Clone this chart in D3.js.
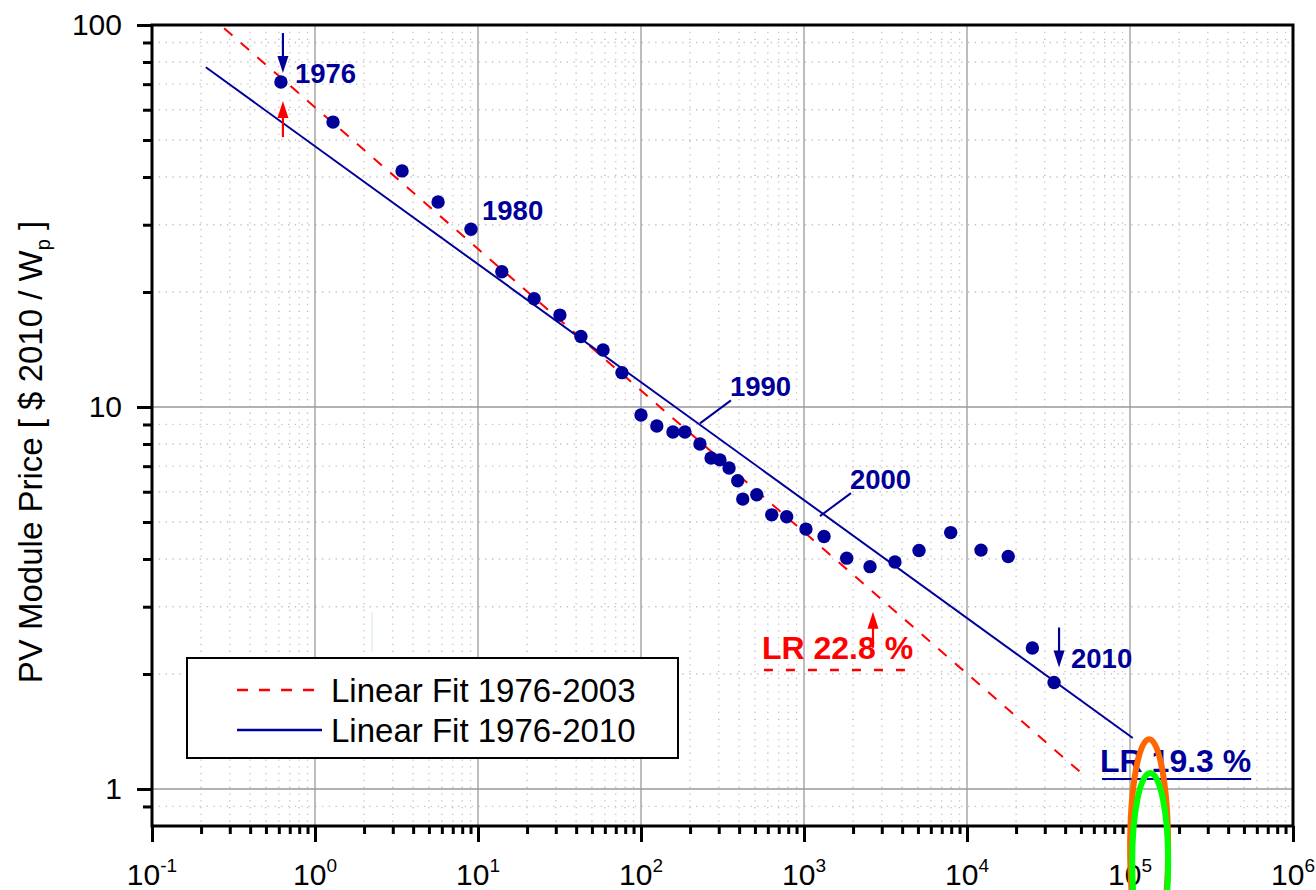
<!DOCTYPE html>
<html>
<head>
<meta charset="utf-8">
<script src="https://cdn.jsdelivr.net/npm/d3@7"></script>
<style>
  body { margin: 0; background: #fff; }
  svg { display: block; }
  text { font-family: "Liberation Sans", Arial, Helvetica, sans-serif; }
</style>
</head>
<body>
<svg id="vis" width="1316" height="890"></svg>
<script>
// cumulative installed capacity vs. module price, one point per year
const years = [1976, 1977, 1978, 1979, 1980, 1981, 1982, 1983, 1984, 1985, 1986, 1987,
               1988, 1989, 1990, 1991, 1992, 1993, 1994, 1995, 1996, 1997, 1998, 1999,
               2000, 2001, 2002, 2003, 2004, 2005, 2006, 2007, 2008, 2009, 2010];
const capacity = [0.618, 1.29, 3.42, 5.69, 9.06, 14.0, 22.1, 31.8, 42.8, 58.5, 76.4, 100,
                  125, 157, 186, 230, 269, 305, 347, 392, 421, 513, 634, 783,
                  1028, 1327, 1828, 2541, 3614, 5077, 7943, 12190, 17900, 25180, 34200];
const price = [70.9, 55.7, 41.5, 34.4, 29.2, 22.6, 19.2, 17.4, 15.3, 14.1, 12.3, 9.53,
               8.92, 8.60, 8.60, 8.00, 7.35, 7.27, 6.92, 6.41, 5.74, 5.89, 5.22, 5.16,
               4.79, 4.58, 4.02, 3.82, 3.93, 4.21, 4.69, 4.22, 4.06, 2.34, 1.90];

// fit lines, end points [capacity, price]
const fit2003 = [[0.277, 98], [53000, 1.08]];
const fit2010 = [[0.214, 77.5], [104000, 1.36]];
const legendLabels = ["Linear Fit 1976-2003", "Linear Fit 1976-2010"];
const lrLabels = ["LR 22.8 %", "LR 19.3 %"];

// axis ticks
const xDecades = [0.1, 1, 10, 100, 1e3, 1e4, 1e5, 1e6];
const xExponents = ["-1", "0", "1", "2", "3", "4", "5", "6"];
const yMajor = [1, 10, 100];
const yTickLabels = ["1", "10", "100"];

// year labels on points, and callouts to the fit line
const labelledYears = [1976, 1980, 2010];
const callouts = [{ text: "1990", at: [230, 9.06] }, { text: "2000", at: [1253, 5.18] }];

const blue = "#000099", red = "#ff0000";
const L = 152, R = 1293, T = 25, B = 826;

const svg = d3.select("#vis");
const x = d3.scaleLog().domain([0.1, 1e6]).range([L, R]);
const y = d3.scaleLog().domain([0.8, 100]).range([B, T]);

var xMinor = [];
xDecades.slice(0, -1).forEach(d => { for (let k = 2; k <= 9; k++) xMinor.push(d * k); });
var yMinor = [0.9];
[1, 10].forEach(d => { for (let k = 2; k <= 9; k++) yMinor.push(d * k); });

// grid
const grid = svg.append("g");
grid.selectAll(".vmin").data(xMinor).join("line")
    .attr("x1", d => x(d)).attr("x2", d => x(d)).attr("y1", T).attr("y2", B)
    .attr("stroke", "#c2c2c2").attr("stroke-width", 1.3).attr("stroke-dasharray", "1.3,5.5");
grid.selectAll(".hmin").data(yMinor).join("line")
    .attr("y1", d => y(d)).attr("y2", d => y(d)).attr("x1", L).attr("x2", R)
    .attr("stroke", "#c2c2c2").attr("stroke-width", 1.3).attr("stroke-dasharray", "1.3,5.5");
grid.selectAll(".vmaj").data(xDecades.slice(1, -1)).join("line")
    .attr("x1", d => x(d)).attr("x2", d => x(d)).attr("y1", T).attr("y2", B)
    .attr("stroke", "#9a9a9a").attr("stroke-width", 1.3);
grid.selectAll(".hmaj").data([1, 10]).join("line")
    .attr("y1", d => y(d)).attr("y2", d => y(d)).attr("x1", L).attr("x2", R)
    .attr("stroke", "#9a9a9a").attr("stroke-width", 1.3);

// faint stray mark seen in the original
svg.append("line")
    .attr("x1", x(2.24)).attr("x2", x(2.24)).attr("y1", y(2.91)).attr("y2", y(2.28))
    .attr("stroke", "#d3e6ec").attr("stroke-width", 1);

// fits
const line = d3.line().x(d => x(d[0])).y(d => y(d[1]));
svg.append("path").attr("d", line(fit2003)).attr("fill", "none")
    .attr("stroke", red).attr("stroke-width", 2).attr("stroke-dasharray", "11,11");
svg.append("path").attr("d", line(fit2010)).attr("fill", "none")
    .attr("stroke", blue).attr("stroke-width", 2);

// points
svg.append("g").selectAll("circle").data(years).join("circle")
    .attr("cx", (d, i) => x(capacity[i]))
    .attr("cy", (d, i) => y(price[i]))
    .attr("r", 6.7)
    .attr("fill", blue);

// annotation helpers
function arrow(px, yTail, yTip, color) {
    const dir = Math.sign(yTip - yTail);
    svg.append("line").attr("x1", px).attr("x2", px)
        .attr("y1", yTail).attr("y2", yTip - dir * 10)
        .attr("stroke", color).attr("stroke-width", 2.2);
    svg.append("path")
        .attr("d", `M${px - 5.5},${yTip - dir * 17}L${px + 5.5},${yTip - dir * 17}L${px},${yTip}Z`)
        .attr("fill", color);
}
function boldLabel(px, py, txt, color, size) {
    return svg.append("text").attr("x", px).attr("y", py)
        .style("font-size", size + "px").style("font-weight", "bold")
        .attr("fill", color).text(txt);
}

const offsets = { 1976: [14, 1], 1980: [11, -9], 2010: [17, -15] };
labelledYears.forEach(yr => {
    const i = years.indexOf(yr);
    boldLabel(x(capacity[i]) + offsets[yr][0], y(price[i]) + offsets[yr][1], String(yr), blue, 27.5);
});

callouts.forEach(c => {
    const px = x(c.at[0]), py = y(c.at[1]);
    svg.append("line").attr("x1", px).attr("y1", py).attr("x2", px + 31).attr("y2", py - 23)
        .attr("stroke", blue).attr("stroke-width", 2);
    boldLabel(px + 30, py - 27, c.text, blue, 27.5);
});

// arrows at 1976 and 2010
const i76 = years.indexOf(1976), i10 = years.indexOf(2010);
arrow(x(capacity[i76]) + 2, y(price[i76]) - 49, y(price[i76]) - 9, blue);
arrow(x(capacity[i76]) + 2, y(price[i76]) + 55, y(price[i76]) + 19, red);
arrow(x(capacity[i10]) + 5, y(price[i10]) - 55, y(price[i10]) - 15, blue);
// arrow to the dashed fit
arrow(x(2650), y(2.91) + 36, y(2.91), red);

// learning rate labels
const lr1 = boldLabel(x(552), y(2.19), lrLabels[0], red, 32);
const b1 = lr1.node().getBBox();
svg.append("line").attr("x1", b1.x + 2).attr("x2", b1.x + b1.width).attr("y1", y(2.19) + 11).attr("y2", y(2.19) + 11)
    .attr("stroke", red).attr("stroke-width", 2.5).attr("stroke-dasharray", "9,13");
const lr2 = boldLabel(x(65500), y(1.108), lrLabels[1], blue, 32);
const b2 = lr2.node().getBBox();
svg.append("line").attr("x1", b2.x + 2).attr("x2", b2.x + b2.width).attr("y1", y(1.108) + 7).attr("y2", y(1.108) + 7)
    .attr("stroke", blue).attr("stroke-width", 2);

// frame and ticks
svg.append("rect").attr("x", L).attr("y", T).attr("width", R - L).attr("height", B - T)
    .attr("fill", "none").attr("stroke", "#000").attr("stroke-width", 3);

const yAxisMaj = d3.axisLeft(y).tickValues(yMajor).tickSize(15).tickPadding(15)
    .tickFormat((d, i) => yTickLabels[i]);
const yAx = svg.append("g").attr("transform", `translate(${L},0)`).call(yAxisMaj);
yAx.select(".domain").remove();
yAx.selectAll("line").attr("stroke-width", 3);
yAx.selectAll("text").style("font-size", "30px").attr("fill", "#000");

const yAxisMin = d3.axisLeft(y).tickValues(yMinor).tickSize(9).tickFormat("");
const yAx2 = svg.append("g").attr("transform", `translate(${L},0)`).call(yAxisMin);
yAx2.select(".domain").remove();
yAx2.selectAll("line").attr("stroke-width", 3);

const xAxisMaj = d3.axisBottom(x).tickValues(xDecades).tickSize(16).tickFormat("");
const xAx = svg.append("g").attr("transform", `translate(0,${B})`).call(xAxisMaj);
xAx.select(".domain").remove();
xAx.selectAll("line").attr("stroke-width", 3);
const xAxisMin = d3.axisBottom(x).tickValues(xMinor).tickSize(8).tickFormat("");
const xAx2 = svg.append("g").attr("transform", `translate(0,${B})`).call(xAxisMin);
xAx2.select(".domain").remove();
xAx2.selectAll("line").attr("stroke-width", 3);

const xl = svg.append("g").selectAll("text").data(xDecades).join("text")
    .attr("x", d => x(d)).attr("y", 885)
    .attr("text-anchor", "middle").style("font-size", "30px").attr("fill", "#000");
xl.append("tspan").text("10");
xl.append("tspan").attr("dy", -13).style("font-size", "19px").text((d, i) => xExponents[i]);

// y axis title
const yt = svg.append("text").attr("transform", "translate(42,452) rotate(-90)")
    .attr("text-anchor", "middle").style("font-size", "33px").attr("fill", "#000");
yt.append("tspan").text("PV Module Price [ $ 2010 / W");
yt.append("tspan").attr("dy", 8).style("font-size", "20px").text("p");
yt.append("tspan").attr("dy", -8).text(" ]");

// legend
const lg = svg.append("g");
lg.append("rect").attr("x", 187).attr("y", 658).attr("width", 491).attr("height", 100)
    .attr("fill", "#fff").attr("stroke", "#000").attr("stroke-width", 2);
legendLabels.forEach((lab, i) => {
    const ly = 690 + i * 40;
    lg.append("line").attr("x1", 237).attr("x2", i === 0 ? 316 : 322).attr("y1", ly).attr("y2", ly)
        .attr("stroke", i === 0 ? red : blue).attr("stroke-width", 2.5)
        .attr("stroke-dasharray", i === 0 ? "11,11" : null);
    lg.append("text").attr("x", 331).attr("y", ly + 12).style("font-size", "33px")
        .attr("fill", "#000").text(lab);
});

// highlight ellipses drawn over the 10^5 label
svg.append("ellipse").attr("cx", x(1.31e5)).attr("cy", y(0.70)).attr("rx", 19).attr("ry", 109)
    .attr("fill", "none").attr("stroke", "#ff6600").attr("stroke-width", 6);
svg.append("ellipse").attr("cx", x(1.33e5)).attr("cy", y(0.644)).attr("rx", 18).attr("ry", 89)
    .attr("fill", "none").attr("stroke", "#00ff00").attr("stroke-width", 6);
</script>
</body>
</html>
